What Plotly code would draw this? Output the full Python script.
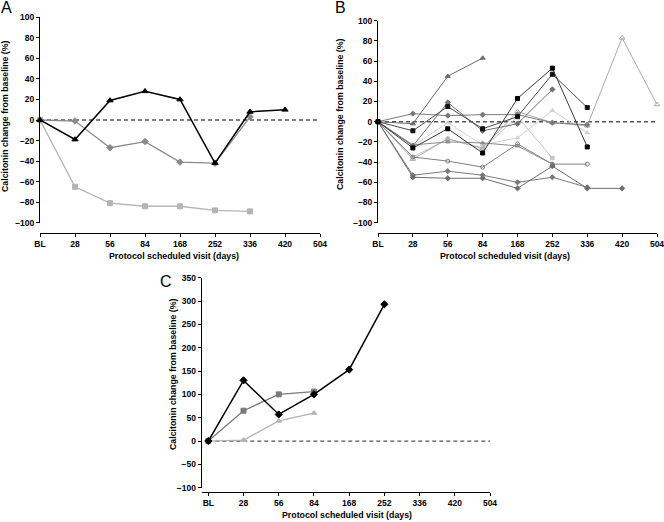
import plotly.graph_objects as go

# visit categories (x positions 0..8)
visits = ["BL", "28", "56", "84", "168", "252", "336", "420", "504"]

# Panel A
a_black = [0, -19, 19, 28, 20, -42, 8, 10]
a_gray = [0, -1, -27, -21, -41, -42, 3]
a_light = [0, -65, -81, -84, -84, -88, -89]

# Panel B
b_tri = [0, -2, 45, 63]
b_sq1 = [0, -26, -7, -31, 23, 53, -25]
b_sq2 = [0, -9, 15, -7, 5, 47, 14]
b_dia1 = [0, 8, 6, 7, 7, -1, -3]
b_dia2 = [0, -24, 19, -9, -2, 32]
b_light1 = [0, -24, -1, -23, -16, 11, -11]
b_light2 = [0, -35, -17, -27, 5, -36]
b_long = [0, -37, -17, -26, 10, -1, -4, 83, 17]
b_circ = [0, -35, -39, -45, -22, -42, -42]
b_dia3 = [0, -23, -20, -21, -24, -42]
b_dia4 = [0, -53, -49, -53, -60, -55, -65]
b_dia5 = [0, -55, -56, -56, -66, -44, -66, -66]

# Panel C
c_black = [0, 130, 57, 100, 153, 293]
c_gray = [0, 65, 100, 106]
c_light = [0, 2, 43, 60]

W, H = 664, 522
FONT = "Liberation Sans, Arial, sans-serif"


def fx(p):
    return p / W


def fy(p):
    return 1 - p / H


fig = go.Figure()


def add(vals, color, symbol, xa, ya, lw=1.0, size=5, mcolor=None):
    fig.add_trace(go.Scatter(
        x=list(range(len(vals))), y=vals, mode="lines+markers",
        line=dict(color=color, width=lw),
        marker=dict(symbol=symbol, size=size, color=mcolor or color,
                    line=dict(width=1, color=mcolor or color)),
        cliponaxis=False, xaxis=xa, yaxis=ya, hoverinfo="skip"))


# A
add(a_light, "#b4b4b4", "square", "x", "y", 1.3, 5)
add(a_gray, "#8a8a8a", "diamond", "x", "y", 1.3, 5)
add(a_black, "#000000", "triangle-up", "x", "y", 1.5, 5.5)

# B
add(b_light1, "#d0d0d0", "triangle-up", "x2", "y2", 1, 4)
add(b_light2, "#c4c4c4", "square", "x2", "y2", 1, 3.5)
add(b_long, "#aaaaaa", "triangle-up-open", "x2", "y2", 1, 5)
add(b_circ, "#808080", "circle-open", "x2", "y2", 1, 4)
add(b_dia3, "#8c8c8c", "triangle-up", "x2", "y2", 1, 4)
add(b_dia4, "#7a7a7a", "diamond", "x2", "y2", 1, 4)
add(b_dia5, "#6e6e6e", "diamond", "x2", "y2", 1, 4)
add(b_dia1, "#7a7a7a", "diamond", "x2", "y2", 1, 4)
add(b_dia2, "#707070", "diamond", "x2", "y2", 1, 4)
add(b_tri, "#6a6a6a", "triangle-up", "x2", "y2", 1, 4.5)
add(b_sq2, "#4a4a4a", "square", "x2", "y2", 1, 4, "#111111")
add(b_sq1, "#3a3a3a", "square", "x2", "y2", 1, 4, "#000000")

# C
add(c_light, "#b4b4b4", "triangle-up", "x3", "y3", 1.3, 5)
add(c_gray, "#7a7a7a", "square", "x3", "y3", 1.3, 5)
add(c_black, "#000000", "diamond", "x3", "y3", 1.5, 5.5)

tickfont = dict(family=FONT, size=8.5, color="black", weight="bold")


def xaxis(dom, rng, pos):
    return dict(domain=[fx(dom[0]), fx(dom[1])], range=rng, anchor="free",
                position=fy(pos), automargin=False, ticklabeloverflow="allow",
                tickmode="array", tickvals=list(range(9)), ticktext=visits,
                showline=True, linecolor="black", linewidth=1,
                ticks="outside", ticklen=3, tickcolor="black",
                showgrid=False, zeroline=False, tickfont=tickfont)


def yaxis(dom, rng, dtick, anchor_x):
    return dict(domain=[fy(dom[1]), fy(dom[0])], range=rng, anchor=anchor_x,
                dtick=dtick, showline=True, linecolor="black", linewidth=1,
                automargin=False, ticklabeloverflow="allow",
                ticks="outside", ticklen=3, tickcolor="black",
                showgrid=False, zeroline=False, tickfont=tickfont)


cx0 = -6.6 / 35.2
fig.update_layout(
    width=W, height=H, margin=dict(l=0, r=0, t=0, b=0),
    paper_bgcolor="white", plot_bgcolor="white", showlegend=False,
    xaxis=xaxis((40, 320), [0, 8], 233),
    yaxis=yaxis((17.3, 222.7), [-100, 100], 20, "x"),
    xaxis2=xaxis((378, 657), [0, 8], 233),
    yaxis2=yaxis((20.7, 222.7), [-100, 100], 20, "x2"),
    xaxis3=xaxis((201.7, 490), [cx0, 8], 491.7),
    yaxis3=yaxis((277.7, 487.7), [-100, 350], 50, "x3"),
)

# zero reference lines
for xr, yr, col, w in [("x", "y", "black", 1), ("x2", "y2", "#555555", 1.5),
                       ("x3", "y3", "#555555", 1.3)]:
    fig.add_shape(type="line", xref=xr, yref=yr, x0=0, x1=8, y0=0, y1=0,
                  line=dict(color=col, width=w, dash="4px,3px"), layer="below")

titlefont = dict(family=FONT, size=8.8, color="black")
ytitle = "<b>Calcitonin change from baseline (%)</b>"
xtitle = "<b>Protocol scheduled visit (days)</b>"
for x, y in [(174, 256), (505, 256), (347, 515)]:
    fig.add_annotation(text=xtitle, x=fx(x), y=fy(y), xref="paper", yref="paper",
                       showarrow=False, font=titlefont, xanchor="center", yanchor="middle")
for x, y in [(5, 116), (340, 114), (173, 374)]:
    fig.add_annotation(text=ytitle, x=fx(x), y=fy(y), xref="paper", yref="paper",
                       showarrow=False, font=titlefont, textangle=-90,
                       xanchor="center", yanchor="middle")
for t, x, y in [("A", 7, 7), ("B", 341, 7), ("C", 166, 281)]:
    fig.add_annotation(text=t, x=fx(x), y=fy(y), xref="paper", yref="paper",
                       showarrow=False, font=dict(family=FONT, size=16, color="black"),
                       xanchor="center", yanchor="middle")

fig.write_html("out.html", config={"displayModeBar": False},
               post_script="document.body.style.margin='0px';")
